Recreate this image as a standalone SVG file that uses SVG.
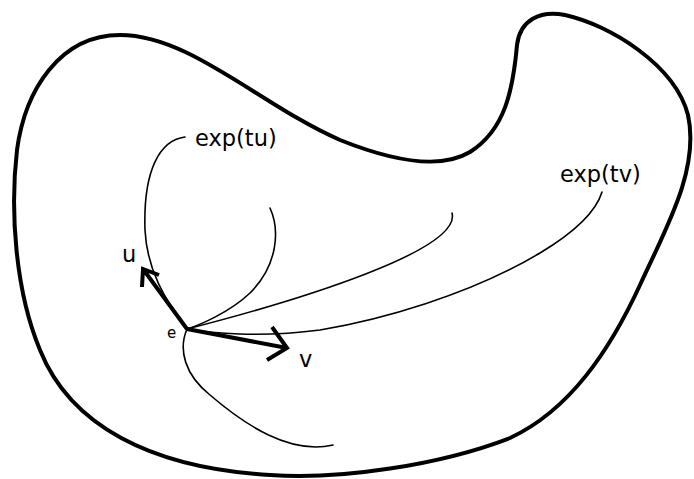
<svg xmlns="http://www.w3.org/2000/svg" width="694" height="479" viewBox="0 0 694 479">
<style>
.outline{fill:none;stroke:#000;stroke-width:4;stroke-linejoin:round}
.curve{fill:none;stroke:#000;stroke-width:1.6;stroke-linecap:round}
.arrow{fill:none;stroke:#000;stroke-width:4;stroke-linecap:butt;stroke-linejoin:miter}
.lbl{font-family:"DejaVu Sans",sans-serif;font-size:22.5px;fill:#000}
.small{font-family:"DejaVu Sans",sans-serif;font-size:15px;fill:#000}
</style>
<rect width="694" height="479" fill="#fff"/>
<g id="manifold">
<path class="outline" d="M120,35 C60,35 25,90 17,150 C10,210 15,290 40,350 C70,425 150,468 270,475 C340,480 440,465 510,438 C570,410 610,350 640,285 C665,230 700,170 688,115 C675,65 610,25 565,15 C540,10 520,20 517,45 C513,90 505,130 470,152 C440,170 390,160 340,140 C260,105 190,35 120,35 Z"/>
</g>
<g id="connectors">
<path class="curve" d="M185,137 C160,140 143,170 145,230 C147,270 165,300 187,329"/>
<path class="curve" d="M270,208 C280,230 278,265 250,293 C230,312 200,325 187,329"/>
<path class="curve" d="M452,213 C462,250 300,300 187,329"/>
<path class="curve" d="M602,192 C595,215 570,235 540,253 C470,295 380,320 320,330 C260,338 210,333 187,329"/>
<path class="curve" d="M187,329 C178,350 185,375 210,395 C245,425 290,455 333,445"/>
<path class="arrow" d="M187,329 L143,269 M142,287 L143,269 L159,275"/>
<path class="arrow" d="M187,329 L287,348 M272,327 L287,348 L267,360"/>
</g>
<g id="labels">
<text class="lbl" x="195" y="146">exp(tu)</text>
<text class="lbl" x="560" y="182">exp(tv)</text>
<text class="lbl" x="122" y="262">u</text>
<text class="lbl" x="299" y="367">v</text>
<text class="small" x="167" y="338">e</text>
</g>
</svg>
